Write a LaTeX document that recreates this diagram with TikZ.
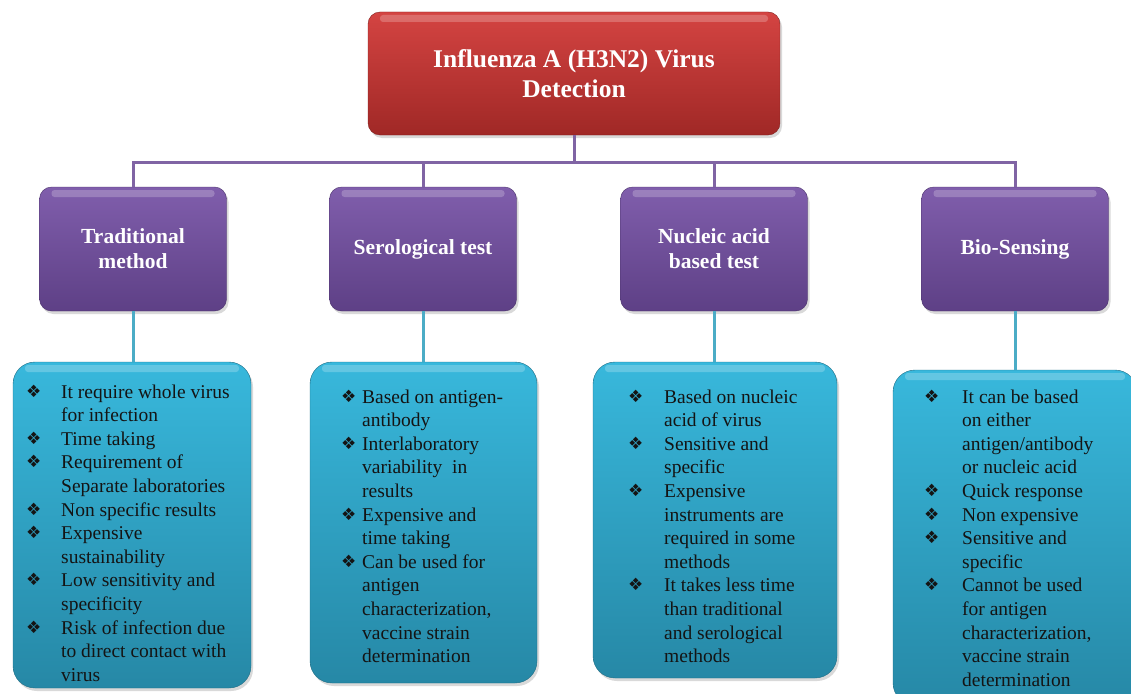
\documentclass[tikz,border=0pt]{standalone}
\usepackage{fontspec}
\setmainfont{Liberation Serif}
\newfontfamily\dingfont{DejaVu Sans}
\usepackage{tikz}
\usetikzlibrary{shadows}
\definecolor{redtop}{RGB}{212,68,66}
\definecolor{redbot}{RGB}{160,40,38}
\definecolor{purtop}{RGB}{128,94,172}
\definecolor{purbot}{RGB}{94,64,134}
\definecolor{bluetop}{RGB}{56,184,220}
\definecolor{bluebot}{RGB}{38,136,166}
\definecolor{purline}{RGB}{128,100,164}
\definecolor{cyanline}{RGB}{75,172,198}
\tikzstyle{gloss} = [path picture={\fill[white, opacity=0.22, rounded corners=3pt]
    ([xshift=12pt, yshift=-3pt]path picture bounding box.north west) rectangle
    ([xshift=-12pt, yshift=-10pt]path picture bounding box.north east);}]
\tikzstyle{title} = [rectangle, rounded corners=12pt, minimum width=412pt, minimum height=123pt, align=center, text=white, top color=redtop, bottom color=redbot, draw=redbot!80!black, gloss, drop shadow={opacity=0.3, shadow xshift=2pt, shadow yshift=-3pt}, font=\bfseries\fontsize{25.5}{30}\selectfont]
\tikzstyle{method} = [rectangle, rounded corners=12pt, minimum width=187pt, minimum height=124pt, align=center, text=white, top color=purtop, bottom color=purbot, draw=purbot!80!black, gloss, drop shadow={opacity=0.3, shadow xshift=2pt, shadow yshift=-3pt}, font=\bfseries\fontsize{21.5}{25}\selectfont]
\tikzstyle{detail} = [rectangle, rounded corners=22pt, top color=bluetop, bottom color=bluebot, draw=bluebot!80!black, gloss, drop shadow={opacity=0.3, shadow xshift=2pt, shadow yshift=-3pt}]
\tikzstyle{listtext} = [inner sep=0pt, anchor=base west, text=black!92, font=\fontsize{19.5}{23.6}\selectfont]
\tikzstyle{purpleline} = [line width=3pt, draw=purline]
\tikzstyle{cyanlink} = [line width=3pt, draw=cyanline]
\newcommand{\blt}{{\dingfont\fontsize{17}{17}\selectfont\raisebox{1pt}{❖}}}

\begin{document}
\begin{tikzpicture}[x=1pt, y=-1pt]
      \useasboundingbox (0,0) rectangle (1131,693);
      \clip (0,0) rectangle (1131,693);

      \node (virus)    [title]  at (574,73.5)  {Influenza A (H3N2) Virus\\Detection};

      \node (trad)     [method] at (133,249)   {Traditional\\method};
      \node (sero)     [method] at (423,249)   {Serological test};
      \node (nucl)     [method] at (714,249)   {Nucleic acid\\based test};
      \node (bios)     [method] at (1015,249)  {Bio-Sensing};

      \node (tradlist) [detail, minimum width=238pt, minimum height=326pt] at (132,525)    {};
      \node (serolist) [detail, minimum width=227pt, minimum height=321pt] at (423.5,522.5) {};
      \node (nucllist) [detail, minimum width=244pt, minimum height=316pt] at (715,520)    {};
      \node (bioslist) [detail, minimum width=244pt, minimum height=335pt] at (1015,537.5) {};

      \node (tradtext) [listtext] at (26,398) {\begin{tabular}[t]{@{}p{35pt}@{}l@{}}
        \blt & It require whole virus\\
             & for infection\\
        \blt & Time taking\\
        \blt & Requirement of\\
             & Separate laboratories\\
        \blt & Non specific results\\
        \blt & Expensive\\
             & sustainability\\
        \blt & Low sensitivity and\\
             & specificity\\
        \blt & Risk of infection due\\
             & to direct contact with\\
             & virus
      \end{tabular}};
      \node (serotext) [listtext] at (341,403) {\begin{tabular}[t]{@{}p{21pt}@{}l@{}}
        \blt & Based on antigen-\\
             & antibody\\
        \blt & Interlaboratory\\
             & variability~ in\\
             & results\\
        \blt & Expensive and\\
             & time taking\\
        \blt & Can be used for\\
             & antigen\\
             & characterization,\\
             & vaccine strain\\
             & determination
      \end{tabular}};
      \node (nucltext) [listtext] at (628,403) {\begin{tabular}[t]{@{}p{36pt}@{}l@{}}
        \blt & Based on nucleic\\
             & acid of virus\\
        \blt & Sensitive and\\
             & specific\\
        \blt & Expensive\\
             & instruments are\\
             & required in some\\
             & methods\\
        \blt & It takes less time\\
             & than traditional\\
             & and serological\\
             & methods
      \end{tabular}};
      \node (biostext) [listtext] at (924,403) {\begin{tabular}[t]{@{}p{38pt}@{}l@{}}
        \blt & It can be based\\
             & on either\\
             & antigen/antibody\\
             & or nucleic acid\\
        \blt & Quick response\\
        \blt & Non expensive\\
        \blt & Sensitive and\\
             & specific\\
        \blt & Cannot be used\\
             & for antigen\\
             & characterization,\\
             & vaccine strain\\
             & determination
      \end{tabular}};

      \coordinate (bus) at (574,162);
      \draw [purpleline] (virus.south) -- (bus);
      \foreach \m in {trad,sero,nucl,bios}
        \draw [purpleline] (bus) -| (\m.north);
      \foreach \m/\l in {trad/tradlist, sero/serolist, nucl/nucllist, bios/bioslist}
        \draw [cyanlink] (\m.south) -- (\m.south |- \l.north);
    \end{tikzpicture}
\end{document}
